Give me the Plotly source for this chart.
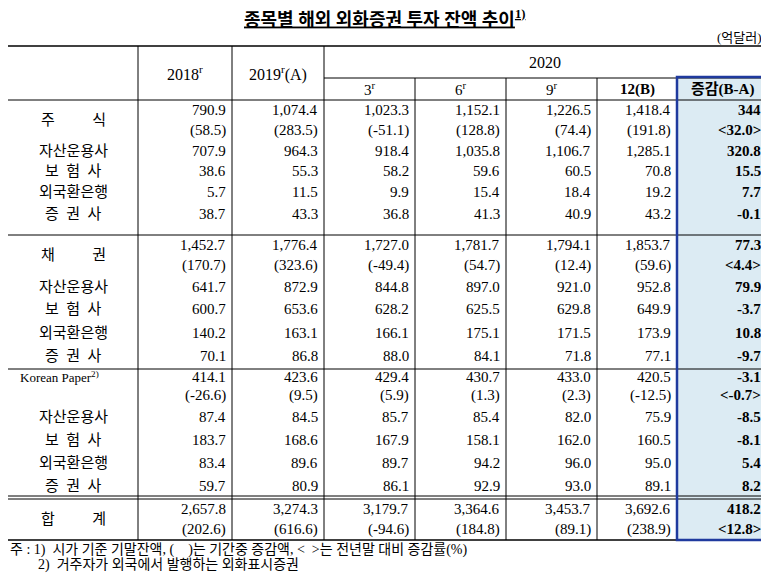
import plotly.graph_objects as go

# column headers
years = ["2018<sup>r</sup>", "2019<sup>r</sup>(A)"]
months_2020 = ["3<sup>r</sup>", "6<sup>r</sup>", "9<sup>r</sup>", "<b>12(B)</b>", "<b>증감(B-A)</b>"]

# row labels
labels = [
    "주          식", "", "자산운용사", "보  험  사", "외국환은행", "증  권  사",
    "채          권", "", "자산운용사", "보  험  사", "외국환은행", "증  권  사",
    "Korean Paper<sup>2)</sup>", "", "자산운용사", "보  험  사", "외국환은행", "증  권  사",
    "합          계", "",
]

# values per column
v2018 = ["790.9", "(58.5)", "707.9", "38.6", "5.7", "38.7",
         "1,452.7", "(170.7)", "641.7", "600.7", "140.2", "70.1",
         "414.1", "(-26.6)", "87.4", "183.7", "83.4", "59.7",
         "2,657.8", "(202.6)"]
v2019 = ["1,074.4", "(283.5)", "964.3", "55.3", "11.5", "43.3",
         "1,776.4", "(323.6)", "872.9", "653.6", "163.1", "86.8",
         "423.6", "(9.5)", "84.5", "168.6", "89.6", "80.9",
         "3,274.3", "(616.6)"]
v3 = ["1,023.3", "(-51.1)", "918.4", "58.2", "9.9", "36.8",
      "1,727.0", "(-49.4)", "844.8", "628.2", "166.1", "88.0",
      "429.4", "(5.9)", "85.7", "167.9", "89.7", "86.1",
      "3,179.7", "(-94.6)"]
v6 = ["1,152.1", "(128.8)", "1,035.8", "59.6", "15.4", "41.3",
      "1,781.7", "(54.7)", "897.0", "625.5", "175.1", "84.1",
      "430.7", "(1.3)", "85.4", "158.1", "94.2", "92.9",
      "3,364.6", "(184.8)"]
v9 = ["1,226.5", "(74.4)", "1,106.7", "60.5", "18.4", "40.9",
      "1,794.1", "(12.4)", "921.0", "629.8", "171.5", "71.8",
      "433.0", "(2.3)", "82.0", "162.0", "96.0", "93.0",
      "3,453.7", "(89.1)"]
v12 = ["1,418.4", "(191.8)", "1,285.1", "70.8", "19.2", "43.2",
       "1,853.7", "(59.6)", "952.8", "649.9", "173.9", "77.1",
       "420.5", "(-12.5)", "75.9", "160.5", "95.0", "89.1",
       "3,692.6", "(238.9)"]
vdiff = ["344", "<32.0>", "320.8", "15.5", "7.7", "-0.1",
         "77.3", "<4.4>", "79.9", "-3.7", "10.8", "-9.7",
         "-3.1", "<-0.7>", "-8.5", "-8.1", "5.4", "8.2",
         "418.2", "<12.8>"]

notes = [
    "주 : 1)  시가 기준 기말잔액, (    )는 기간중 증감액, <  >는 전년말 대비 증감률(%)",
    "        2)  거주자가 외국에서 발행하는 외화표시증권",
]

# layout geometry (page pixels; the page body has an 8px margin)
col_edges = [8, 138, 232, 324, 415, 506, 597, 677, 767]
row_y = [110, 130, 151, 171, 192, 214,
         245, 265, 287, 309, 333, 356,
         377, 395, 417, 440, 463, 486,
         509, 529]
FONT = "Liberation Serif, Noto Sans CJK KR"
fig = go.Figure()

ann = []
def txt(x, y, s, anchor="right", size=14, bold=False):
    if bold:
        s = "<b>" + s + "</b>"
    ann.append(dict(x=x, y=y, text=s, xanchor=anchor, yanchor="middle",
                    showarrow=False, font=dict(family=FONT, size=size, color="black")))

shapes = []
def line(x0, y0, x1, y1, w=1, c="black"):
    shapes.append(dict(type="line", x0=x0, y0=y0, x1=x1, y1=y1,
                       line=dict(color=c, width=w)))

# diff column box
shapes.append(dict(type="rect", x0=677, y0=77, x1=766, y1=540,
                   fillcolor="#dcebf3", line=dict(width=0), layer="below"))

# title
txt(384, 18, "<u>종목별 해외 외화증권 투자 잔액 추이<sup>1)</sup></u>", "center", 18, True)
txt(764, 37, "(억달러)", "right", 13)

# grid
line(8, 46, 767, 46, 1.5)
line(324, 78, 767, 78)
line(8, 100, 767, 100)
line(8, 235, 767, 235)
line(8, 369, 767, 369)
line(8, 496, 767, 496)
line(8, 499, 767, 499)
line(8, 540, 767, 540, 1.5)
for x in col_edges[1:4]:
    line(x, 46, x, 540)
for x in col_edges[4:7]:
    line(x, 78, x, 540)
shapes.append(dict(type="rect", x0=677, y0=77, x1=765, y1=540,
                   line=dict(color="#1f3a9e", width=2.5)))

# headers
txt(185, 73, years[0], "center", 16)
txt(278, 73, years[1], "center", 16)
txt(545, 62, "2020", "center", 16)
for i, h in enumerate(months_2020):
    txt((col_edges[i + 3] + col_edges[i + 4]) / 2, 89, h, "center", 15)

# body
cols = [v2018, v2019, v3, v6, v9, v12, vdiff]
for i, lab in enumerate(labels):
    y = row_y[i]
    if lab:
        yy = (row_y[i] + row_y[i + 1]) / 2 if labels[i + 1] == "" else y
        if lab.startswith("Korean"):
            txt(18, y, lab, "left", 13)
        else:
            txt(73, yy, lab, "center", 15)
    for j, c in enumerate(cols):
        txt(col_edges[j + 2] - 4, y, c[i].replace("<", "&lt;").replace(">", "&gt;"),
            "right", 15, bold=(j == 6))

txt(8, 550, notes[0], "left", 14)
txt(8, 565, notes[1], "left", 14)

fig.update_layout(
    width=761, height=569, margin=dict(l=0, r=0, t=0, b=0),
    plot_bgcolor="white", paper_bgcolor="white",
    xaxis=dict(range=[8, 769], visible=False, fixedrange=True),
    yaxis=dict(range=[577, 8], visible=False, fixedrange=True),
    annotations=ann, shapes=shapes, showlegend=False,
)
fig.write_html("out.html")
